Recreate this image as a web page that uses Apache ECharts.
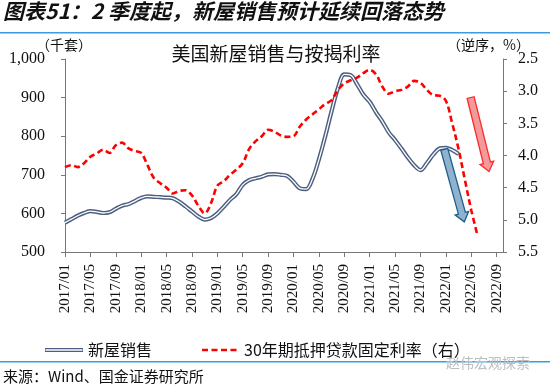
<!DOCTYPE html>
<html><head><meta charset="utf-8">
<script src="https://cdn.jsdelivr.net/npm/echarts@6/dist/echarts.min.js"></script>
<style>html,body{margin:0;padding:0;background:#fff}#c{width:550px;height:387px}</style>
</head><body><div id="c"></div>
<script>
// Categories: 2017/01 .. 2022/10 (monthly)
const categories = (function(){const a=[];for(let y=2017;y<=2022;y++){for(let m=1;m<=12;m++){a.push(y+'/'+String(m).padStart(2,'0'));}}return a.slice(0,70);})();

// New home sales (thousand units), 2017/01 .. 2022/03
const salesValues = [576,585,594,601,606,604,601,603,612,620,624,632,
  640,644,643,642,641,639,630,618,605,592,584,588,
  600,617,635,650,674,686,691,695,701,702,700,697,
  682,665,663,690,740,800,865,925,960,958,935,908,
  889,862,838,810,790,768,745,725,712,730,752,768,
  770,764,754];

// 30-year fixed mortgage rate (%), 2017/01 .. 2022/06 (right axis, inverted)
const rateValues = [4.18,4.15,4.18,4.12,4.02,3.97,3.91,3.96,3.84,3.80,3.89,3.93,
  3.96,4.15,4.35,4.43,4.50,4.59,4.55,4.54,4.62,4.78,4.90,4.74,
  4.47,4.40,4.30,4.22,4.12,3.90,3.78,3.70,3.60,3.63,3.69,3.71,
  3.70,3.55,3.44,3.36,3.28,3.20,3.14,2.98,2.88,2.83,2.79,2.72,
  2.67,2.74,2.93,3.04,3.00,2.98,2.93,2.84,2.87,2.98,3.06,3.07,
  3.15,3.50,3.90,4.38,4.85,5.25];

const leftTicks = {min:500, max:1000, interval:100};
const rightTicks = {min:2.5, max:5.5, interval:0.5};

const seriesNames = ['新屋销售','30年期抵押贷款固定利率（右）'];

// annotation arrows in data coordinates [category index, value]
const blueArrow = {axis:0, from:[59.75,766], to:[62.9,578]};
const redArrow  = {axis:1, from:[63.9,3.10], to:[66.8,4.25]};

const serif = '"Liberation Serif","Times New Roman",serif';
const cjk = '"Noto Sans CJK SC","Noto Sans",sans-serif';
const salesColor = '#4d5f80';
const rateColor = '#ff0000';

const chart = echarts.init(document.getElementById('c'), null, {renderer:'canvas'});

const legendY = 350;
const legendGraphics = [
  {type:'line', shape:{x1:45, y1:legendY, x2:83, y2:legendY}, style:{stroke:salesColor, lineWidth:4.2}},
  {type:'line', shape:{x1:45.5, y1:legendY, x2:82.5, y2:legendY}, style:{stroke:'#fff', lineWidth:1.3}},
  {type:'text', x:88, y:legendY, style:{text:seriesNames[0], fontFamily:cjk, fontSize:16, fill:'#111', verticalAlign:'middle'}},
  {type:'line', shape:{x1:202, y1:legendY, x2:239, y2:legendY}, style:{stroke:rateColor, lineWidth:2.6, lineDash:[6,3.5]}},
  {type:'text', x:244, y:legendY, style:{text:seriesNames[1], fontFamily:cjk, fontSize:16, fill:'#111', verticalAlign:'middle'}}
];

const option = {
  backgroundColor:'#fff',
  animation:false,
  grid:{left:65, right:47, top:59, bottom:135},
  legend:{show:false},
  xAxis:{
    type:'category', data:categories, boundaryGap:false,
    axisLine:{lineStyle:{color:'#777', width:1}},
    axisTick:{show:true, interval:3, length:5, lineStyle:{color:'#777'}},
    axisLabel:{interval:3, rotate:90, margin:12, fontFamily:serif, fontSize:15, color:'#111'},
    splitLine:{show:false}
  },
  yAxis:[
    {type:'value', min:leftTicks.min, max:leftTicks.max, interval:leftTicks.interval,
     axisLine:{show:true, lineStyle:{color:'#777'}},
     axisTick:{show:true, length:4, lineStyle:{color:'#777'}},
     axisLabel:{margin:20, fontFamily:serif, fontSize:16, color:'#111',
       formatter:v=>String(v).replace(/\B(?=(\d{3})+(?!\d))/g, ',')},
     splitLine:{show:false}},
    {type:'value', min:rightTicks.min, max:rightTicks.max, interval:rightTicks.interval, inverse:true,
     position:'right',
     axisLine:{show:true, lineStyle:{color:'#777'}},
     axisTick:{show:true, length:4, lineStyle:{color:'#777'}},
     axisLabel:{margin:15, fontFamily:serif, fontSize:16, color:'#111', formatter:v=>v.toFixed(1)},
     splitLine:{show:false}}
  ],
  series:[
    {name:seriesNames[0], type:'line', data:salesValues, yAxisIndex:0, symbol:'none', smooth:0.35,
     lineStyle:{width:4.2, color:salesColor}, itemStyle:{color:salesColor}, z:2},
    {name:'inner', type:'line', data:salesValues, yAxisIndex:0, symbol:'none', smooth:0.35, silent:true,
     lineStyle:{width:1.3, color:'#ffffff'}, z:3},
    {name:seriesNames[1], type:'line', data:rateValues, yAxisIndex:1, symbol:'none', smooth:0.35,
     lineStyle:{width:2.6, color:rateColor, type:[6,3.5]}, itemStyle:{color:rateColor}, z:4}
  ],
  graphic:[
    {type:'text', left:3, top:1, style:{text:'图表51：2 季度起，新屋销售预计延续回落态势', fontFamily:cjk, fontSize:21, fontWeight:'bold', fontStyle:'italic', fill:'#111'}},
    {type:'rect', shape:{x:0, y:32, width:550, height:1.5}, style:{fill:'#3b9ddd'}},
    {type:'text', x:276, y:44, style:{text:'美国新屋销售与按揭利率', fontFamily:cjk, fontSize:19, fill:'#111', align:'center'}},
    {type:'text', x:36, y:38, style:{text:'（千套）', fontFamily:cjk, fontSize:14, fill:'#111'}},
    {type:'text', x:447, y:38, style:{text:'（逆序，%）', fontFamily:cjk, fontSize:14, fill:'#111'}},
    {type:'rect', shape:{x:0, y:361, width:550, height:1.5}, style:{fill:'#3b9ddd'}},
    {type:'text', x:3, y:369, style:{text:'来源：Wind、国金证券研究所', fontFamily:cjk, fontSize:15, fill:'#111'}},
    {type:'text', x:446, y:356, style:{text:'赵伟宏观探索', fontFamily:cjk, fontSize:14, fill:'#bdbdbd'}}
  ].concat(legendGraphics)
};
chart.setOption(option);

function toPx(pt, axis){
  const i0 = Math.floor(pt[0]), f = pt[0]-i0;
  const a = chart.convertToPixel({xAxisIndex:0}, i0);
  const b = chart.convertToPixel({xAxisIndex:0}, i0+1 < categories.length ? i0+1 : i0);
  const x = a + (b-a)*f;
  const y = chart.convertToPixel({yAxisIndex:axis}, pt[1]);
  return [x,y];
}
function arrowPoints(p0, p1){
  const dx=p1[0]-p0[0], dy=p1[1]-p0[1], L=Math.hypot(dx,dy);
  const d=[dx/L,dy/L], n=[-d[1],d[0]];
  const w=3.6, hw=7, hl=9;
  const bx=p1[0]-d[0]*hl, by=p1[1]-d[1]*hl;
  return [
    [p0[0]+n[0]*w, p0[1]+n[1]*w],
    [bx+n[0]*w, by+n[1]*w],
    [bx+n[0]*hw, by+n[1]*hw],
    [p1[0], p1[1]],
    [bx-n[0]*hw, by-n[1]*hw],
    [bx-n[0]*w, by-n[1]*w],
    [p0[0]-n[0]*w, p0[1]-n[1]*w]
  ];
}
const bp = arrowPoints(toPx(blueArrow.from, blueArrow.axis), toPx(blueArrow.to, blueArrow.axis));
const rp = arrowPoints(toPx(redArrow.from, redArrow.axis), toPx(redArrow.to, redArrow.axis));
chart.setOption({graphic: option.graphic.concat([
  {type:'polygon', z:100, shape:{points:bp}, style:{fill:'#8fb2cf', stroke:'#1f5f8b', lineWidth:1.3}},
  {type:'polygon', z:100, shape:{points:rp}, style:{fill:'#f49a9a', stroke:'#ff2a2a', lineWidth:1.3}}
])});
</script>
</body></html>
